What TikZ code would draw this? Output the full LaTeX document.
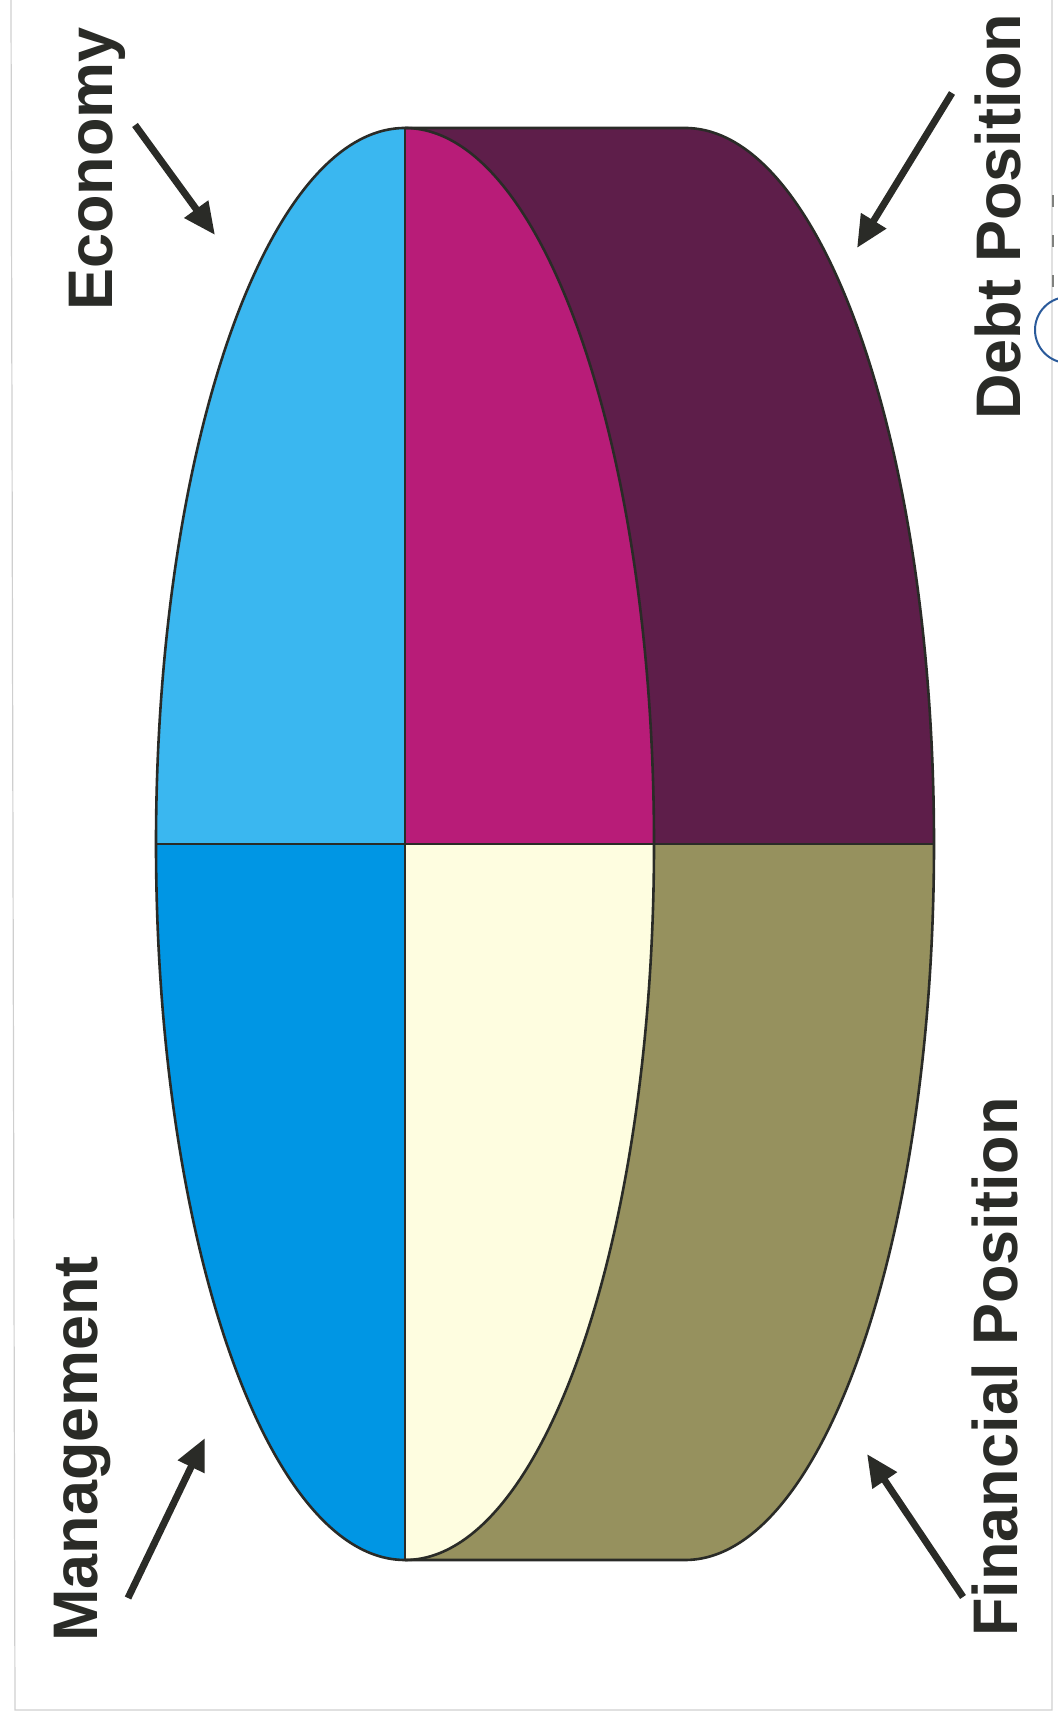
\documentclass[tikz,border=0pt]{standalone}
\usepackage{fontspec}
\setmainfont{Liberation Sans}
\usetikzlibrary{arrows.meta}
\definecolor{EconomyBlue}{HTML}{3AB7F0}
\definecolor{ManageBlue}{HTML}{0096E4}
\definecolor{DebtFace}{HTML}{B81C78}
\definecolor{DebtSide}{HTML}{5E1E4A}
\definecolor{FinFace}{HTML}{FEFDE0}
\definecolor{FinSide}{HTML}{96915E}
\definecolor{InkDark}{HTML}{2A2B27}
\definecolor{FrameGray}{HTML}{CFCFCF}
\definecolor{ScanBlue}{HTML}{2A5A9A}

\begin{document}
\begin{tikzpicture}[
	x=1pt, y=1pt,
	outline/.style={
		draw=InkDark,
		line width=2.6pt,
		line join=round
	},
	% rotated labels
	side label/.style={
		rotate=90,
		anchor=base,
		inner sep=0pt,
		text=InkDark,
		font=\fontsize{63}{63}\selectfont\bfseries
	},
	pointer/.style={
		draw=InkDark,
		line width=7pt,
		-{Triangle[length=32pt,width=28pt]}
	},
	ell/.style={x radius=249pt, y radius=716pt}
	]
	\useasboundingbox (0,0) rectangle (1058,1717);
	
	% ================= PAGE FRAME =================
	\draw[FrameGray, line width=1.2pt] (11,1717) -- (15,7) -- (1052,7) -- (1052,1717);
	\draw[ScanBlue, line width=2pt] (1068,1387) circle[radius=33pt];
	\foreach \yy in {1430,1470,1510} {
		\draw[InkDark!60, line width=1.5pt] (1053,\yy) -- (1053,\yy+12);
	}
	
	% ================= CYLINDER BODY =================
	\fill[DebtSide] (405,1589) -- (685,1589)
		arc[ell, start angle=90, end angle=0] -- (654,873)
		arc[ell, start angle=0, end angle=90] -- cycle;
	\fill[FinSide] (654,873) -- (934,873)
		arc[ell, start angle=0, end angle=-90] -- (405,157)
		arc[ell, start angle=-90, end angle=0] -- cycle;
	
	% ================= FRONT FACE =================
	\fill[EconomyBlue] (405,873) -- (405,1589) arc[ell, start angle=90, end angle=180] -- cycle;
	\fill[DebtFace] (405,873) -- (654,873) arc[ell, start angle=0, end angle=90] -- cycle;
	\fill[ManageBlue] (405,873) -- (156,873) arc[ell, start angle=180, end angle=270] -- cycle;
	\fill[FinFace] (405,873) -- (405,157) arc[ell, start angle=270, end angle=360] -- cycle;
	
	% ================= OUTLINES =================
	\draw[outline] (405,1589) -- (685,1589)
		arc[ell, start angle=90, end angle=-90] -- (405,157)
		arc[ell, start angle=270, end angle=90] -- cycle;
	\draw[outline] (405,1589) arc[ell, start angle=90, end angle=-90];
	\draw[outline, line width=1.8pt] (405,1589) -- (405,157);
	\draw[outline, line width=2.2pt] (156,873) -- (934,873);
	
	% ================= LABELS =================
	\node[side label] (economy) at (112,1548) {Economy};
	\node[side label] (management) at (97,268) {Management};
	\node[side label] (debt) at (1020,1500) {Debt Position};
	\node[side label] (financial) at (1017,350) {Financial Position};
	
	% ================= ARROWS =================
	\coordinate (economy tail) at (135,1592);
	\coordinate (economy tip) at (215,1482);
	\coordinate (debt tail) at (952,1624);
	\coordinate (debt tip) at (857,1469);
	\coordinate (management tail) at (128,119);
	\coordinate (management tip) at (205,279);
	\coordinate (financial tail) at (963,120);
	\coordinate (financial tip) at (867,263);
	
	\draw[pointer] (economy tail) -- (economy tip);
	\draw[pointer] (debt tail) -- (debt tip);
	\draw[pointer] (management tail) -- (management tip);
	\draw[pointer] (financial tail) -- (financial tip);
	
\end{tikzpicture}
\end{document}
